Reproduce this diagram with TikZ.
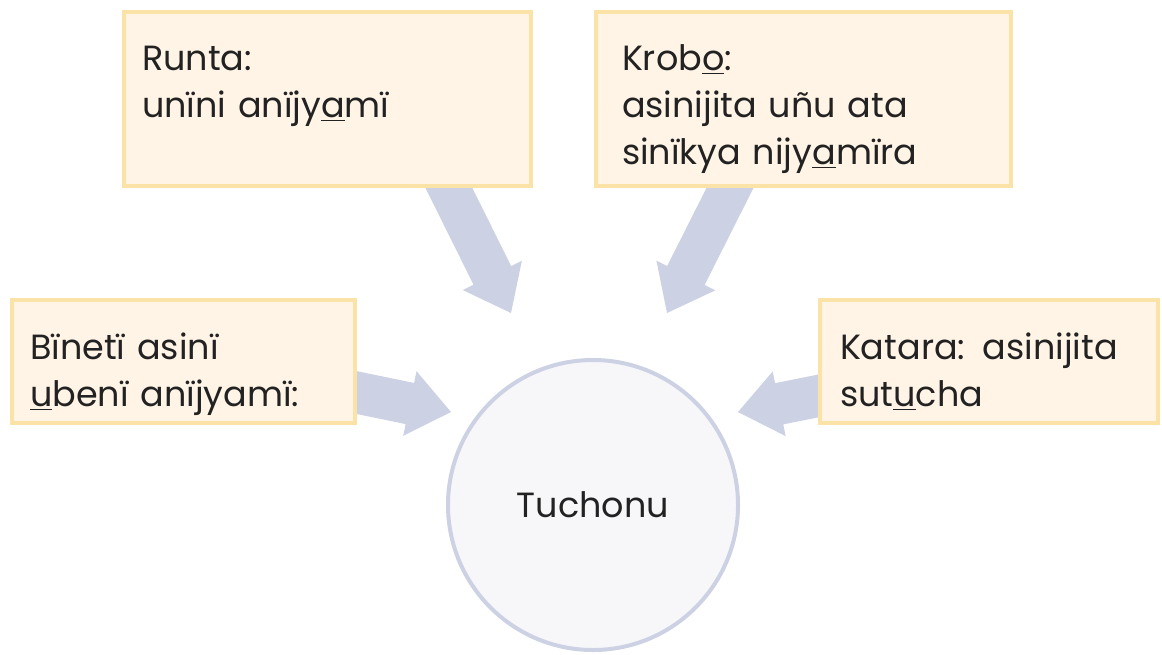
\documentclass[tikz,border=0pt]{standalone}
\usepackage{fontspec}
\setmainfont{Poppins}
\usepackage{tikz}
\usetikzlibrary{calc}
\definecolor{boxfill}{HTML}{FFF4E6}
\definecolor{boxedge}{HTML}{FBE3A8}
\definecolor{flow}{HTML}{CDD1E4}
\definecolor{hubfill}{HTML}{F7F7FA}
\definecolor{ink}{HTML}{222222}
\newcommand{\labelfont}{\fontsize{17.5}{23.5}\selectfont\hyphenpenalty=10000\exhyphenpenalty=10000}
\tikzset{
  infobox/.style={rectangle, draw=boxedge, fill=boxfill, line width=2pt, outer sep=0pt, inner xsep=9pt, inner ysep=0pt,
    align=left, anchor=north west, text=ink, font=\labelfont,
    execute at begin node={\rule{0pt}{#1}}, execute at end node={\rule[-5pt]{0pt}{5pt}}},
  hub/.style={circle, draw=flow, fill=hubfill, line width=2pt, outer sep=0pt, minimum size=145pt, inner sep=0pt, text=ink, font=\labelfont},
  fatarrow/.style={fill=flow, draw=none},
}
% block arrow from #1 to #2 (shaft 21pt, head 33pt wide, 21pt long)
\newcommand{\fatarrow}[2]{%
  \coordinate (#2-base) at ($(#2)!21pt!(#1)$);
  \fill[fatarrow] ($(#1)!10.5pt!90:(#2)$) -- ($(#2-base)!10.5pt!90:(#2)$) -- ($(#2-base)!16.5pt!90:(#2)$)
    -- (#2) -- ($(#2-base)!16.5pt!-90:(#2)$) -- ($(#2-base)!10.5pt!-90:(#2)$) -- ($(#1)!10.5pt!-90:(#2)$) -- cycle;
}

\begin{document}
\begin{tikzpicture}[x=0.5pt, y=-0.5pt]
  \useasboundingbox (0,0) rectangle (1162,654);

  % Arrows (under the boxes)
  \coordinate (runta-out) at (440,170);
  \coordinate (runta-in) at (511,313);
  \coordinate (krobo-out) at (738,172);
  \coordinate (krobo-in) at (667,313);
  \coordinate (bineti-out) at (337,388.5);
  \coordinate (bineti-in) at (451,412);
  \coordinate (katara-out) at (838,392);
  \coordinate (katara-in) at (738,412);
  \fatarrow{runta-out}{runta-in}
  \fatarrow{krobo-out}{krobo-in}
  \fatarrow{bineti-out}{bineti-in}
  \fatarrow{katara-out}{katara-in}

  % Boxes
  \node[infobox=23pt, text width=185.5pt, minimum height=87pt] (runta) at (124,12)
    {Runta:\\unïni anïjy\underline{a}mï\\\mbox{}};
  \node[infobox=23pt, inner xsep=13pt, text width=181.5pt, minimum height=87pt] (krobo) at (596,12)
    {Krob\underline{o}:\\asinijita uñu ata\\sinïkya nijy\underline{a}mïra};
  \node[infobox=26pt, text width=153.5pt, minimum height=61.5pt] (bineti) at (12,300)
    {Bïnetï asinï\\\underline{u}benï anïjyamï:};
  \node[infobox=26pt, inner xsep=10pt, text width=149pt, minimum height=61.5pt] (katara) at (820,300)
    {Katara: asinijita\\sut\underline{u}cha};

  % Centre
  \node[hub] (tuchonu) at (593,505) {Tuchonu};
\end{tikzpicture}
\end{document}
